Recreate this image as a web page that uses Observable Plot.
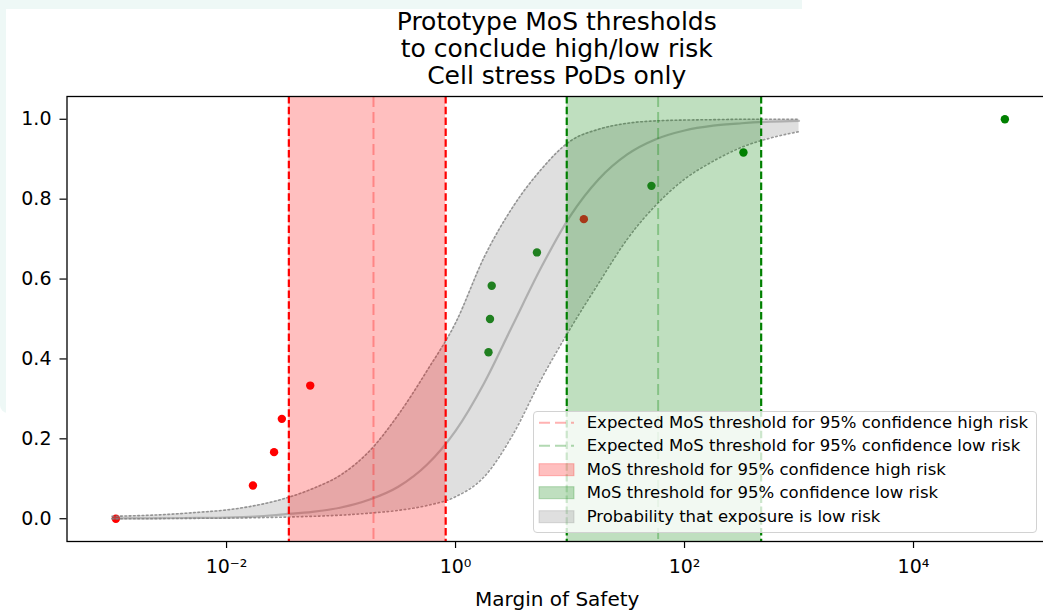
<!DOCTYPE html>
<html>
<head>
<meta charset="utf-8">
<script src="https://cdn.jsdelivr.net/npm/d3@7"></script>
<script src="https://cdn.jsdelivr.net/npm/@observablehq/plot@0.6"></script>
<style>
  html, body { margin: 0; padding: 0; background: #ffffff; width: 1043px; height: 613px; overflow: hidden; font-family: "DejaVu Sans", sans-serif; }
  #bg { position: absolute; left: 0; top: 0; width: 802px; height: 413px; background: #eef8f6; border-bottom-left-radius: 8px; }
  #card { position: absolute; left: 6px; top: 9px; width: 1037px; height: 604px; background: #ffffff; }
  #title { position: absolute; left: 66.5px; top: 8px; width: 980.5px; text-align: center; font-size: 25px; line-height: 27px; color: #000; }
  #chart { position: absolute; left: 0; top: 90px; width: 1060px; height: 523px; }
  #chart svg { max-width: none !important; }
  #legend { position: absolute; left: 533px; top: 411px; width: 502px; height: 120px; background: rgba(255,255,255,0.8); border: 1px solid #d2d2d2; border-radius: 4px; }
  .row { position: absolute; left: 0; height: 23.4px; line-height: 23.4px; font-size: 16.5px; color: #000; white-space: nowrap; }
  .row svg { position: absolute; left: 4px; top: 0; }
  .row span { position: absolute; left: 52.7px; top: 0; }
</style>
</head>
<body>
<div id="bg"></div>
<div id="card"></div>
<div id="title">Prototype MoS thresholds<br>to conclude high/low risk<br>Cell stress PoDs only</div>
<div id="chart"></div>
<div id="legend"></div>
<script>
// ---------- data ----------
const mosGrid = [0.001, 0.00178, 0.00316, 0.00562, 0.01, 0.0178, 0.0316, 0.0562, 0.1, 0.178, 0.316, 0.562, 1, 1.78, 3.16, 5.62, 10, 17.8, 31.6, 56.2, 100, 178, 316, 562, 1000];
const probUpper = [0.006, 0.008, 0.011, 0.016, 0.022, 0.033, 0.05, 0.075, 0.11, 0.17, 0.26, 0.37, 0.49, 0.655, 0.78, 0.875, 0.945, 0.975, 0.99, 0.996, 0.998, 0.999, 1.0, 1.0, 1.0];
const probMid   = [0.0005, 0.0008, 0.0012, 0.002, 0.003, 0.0055, 0.011, 0.017, 0.028, 0.048, 0.08, 0.135, 0.22, 0.34, 0.485, 0.63, 0.757, 0.85, 0.912, 0.95, 0.972, 0.984, 0.99, 0.994, 0.996];
const probLower = [0.0, 0.0, 0.0005, 0.001, 0.0015, 0.0025, 0.004, 0.006, 0.009, 0.014, 0.021, 0.033, 0.055, 0.105, 0.21, 0.35, 0.475, 0.59, 0.70, 0.785, 0.85, 0.895, 0.93, 0.953, 0.969];

const highRiskMoS  = [0.00108, 0.017, 0.026, 0.0304, 0.0538, 13.2];
const highRiskProb = [0.0, 0.0833, 0.1667, 0.25, 0.3333, 0.75];
const lowRiskMoS   = [1.94, 2.0, 2.07, 5.14, 51.4, 327, 62800];
const lowRiskProb  = [0.4167, 0.5, 0.5833, 0.6667, 0.8333, 0.9167, 1.0];

const highThreshold = [0.035, 0.82];
const highExpected = [0.192];
const lowThreshold = [9.36, 467];
const lowExpected = [58.8];

const xDomain = [0.000404, 148000];
const yDomain = [-0.057, 1.057];
const xTicks = [0.01, 1, 100, 10000];
const xTickLabels = ["10\u207B\u00B2", "10\u2070", "10\u00B2", "10\u2074"];
const yTicks = [0, 0.2, 0.4, 0.6, 0.8, 1.0];
const yTickLabels = ["0.0", "0.2", "0.4", "0.6", "0.8", "1.0"];
const xLabel = "Margin of Safety";

const legendLabels = [
  "Expected MoS threshold for 95% confidence high risk",
  "Expected MoS threshold for 95% confidence low risk",
  "MoS threshold for 95% confidence high risk",
  "MoS threshold for 95% confidence low risk",
  "Probability that exposure is low risk"
];
const legendKinds = ["dash", "dash", "patch", "patch", "patch"];
const legendColors = ["#ff0000", "#008000", "#ff0000", "#008000", "#808080"];

// ---------- tables ----------
const band = mosGrid.map((x, i) => ({x, lo: probLower[i], mid: probMid[i], hi: probUpper[i]}));
const highPts = highRiskMoS.map((x, i) => ({x, y: highRiskProb[i]}));
const lowPts = lowRiskMoS.map((x, i) => ({x, y: lowRiskProb[i]}));
const spanHigh = [{x1: highThreshold[0], x2: highThreshold[1]}];
const spanLow = [{x1: lowThreshold[0], x2: lowThreshold[1]}];

const curve = "monotone-x";

const chart = Plot.plot({
  width: 1060,
  height: 523,
  marginTop: 6,
  marginBottom: 72,
  marginLeft: 66.5,
  marginRight: 13,
  style: {fontFamily: "DejaVu Sans", fontSize: "19px", color: "#000", background: "transparent", overflow: "visible", maxWidth: "none"},
  x: {type: "log", domain: xDomain, axis: null},
  y: {domain: yDomain, axis: null},
  marks: [
    Plot.dot(highPts, {x: "x", y: "y", r: 4.2, fill: "#ff0000", stroke: "none"}),
    Plot.dot(lowPts, {x: "x", y: "y", r: 4.2, fill: "#008000", stroke: "none"}),
    Plot.areaY(band, {x: "x", y1: "lo", y2: "hi", fill: "#808080", fillOpacity: 0.25, curve}),
    Plot.line(band, {x: "x", y: "mid", stroke: "#808080", strokeOpacity: 0.5, strokeWidth: 2.2, curve}),
    Plot.line(band, {x: "x", y: "hi", stroke: "#808080", strokeOpacity: 0.8, strokeWidth: 1.6, strokeDasharray: "1.6,2.7", curve}),
    Plot.line(band, {x: "x", y: "lo", stroke: "#808080", strokeOpacity: 0.8, strokeWidth: 1.6, strokeDasharray: "1.6,2.7", curve}),
    Plot.rect(spanHigh, {x1: "x1", x2: "x2", fill: "#ff0000", fillOpacity: 0.25}),
    Plot.rect(spanLow, {x1: "x1", x2: "x2", fill: "#008000", fillOpacity: 0.25}),
    Plot.ruleX(highExpected, {stroke: "#ff0000", strokeOpacity: 0.3, strokeWidth: 2, strokeDasharray: "11,5"}),
    Plot.ruleX(lowExpected, {stroke: "#008000", strokeOpacity: 0.3, strokeWidth: 2, strokeDasharray: "11,5"}),
    Plot.ruleX(highThreshold, {stroke: "#ff0000", strokeWidth: 2.2, strokeDasharray: "7.5,3.3"}),
    Plot.ruleX(lowThreshold, {stroke: "#008000", strokeWidth: 2.2, strokeDasharray: "7.5,3.3"}),
    Plot.frame({stroke: "#000", strokeWidth: 1.3}),
    Plot.axisX(xTicks, {tickFormat: d => xTickLabels[xTicks.indexOf(d)], tickSize: 7, tickPadding: 11, fontSize: 19, strokeWidth: 1.2, label: null}),
    Plot.axisY(yTicks, {tickFormat: d => yTickLabels[yTicks.indexOf(d)], tickSize: 7, tickPadding: 8.5, fontSize: 19, strokeWidth: 1.2, label: null}),
    Plot.text([xLabel], {text: d => d, frameAnchor: "bottom", dy: 58, lineAnchor: "middle", fontSize: 20, fill: "#000"})
  ]
});
chart.style.maxWidth = "none";
chart.setAttribute("width", 1060);
chart.setAttribute("height", 523);
document.getElementById("chart").appendChild(chart);

// ---------- legend ----------
const legend = d3.select("#legend");
legendLabels.forEach((label, i) => {
  const row = legend.append("div").attr("class", "row").style("top", (-1 + i * 23.38) + "px").style("width", "500px");
  const svg = row.append("svg").attr("width", 38).attr("height", 23.4);
  if (legendKinds[i] === "dash") {
    svg.append("line").attr("x1", 1).attr("x2", 36).attr("y1", 11.7).attr("y2", 11.7)
      .attr("stroke", legendColors[i]).attr("stroke-opacity", 0.3).attr("stroke-width", 2).attr("stroke-dasharray", "11,5");
  } else {
    svg.append("rect").attr("x", 1).attr("y", 5.7).attr("width", 35).attr("height", 12)
      .attr("fill", legendColors[i]).attr("fill-opacity", 0.25)
      .attr("stroke", legendColors[i]).attr("stroke-opacity", 0.25).attr("stroke-width", 1);
  }
  row.append("span").text(label);
});
</script>
</body>
</html>
